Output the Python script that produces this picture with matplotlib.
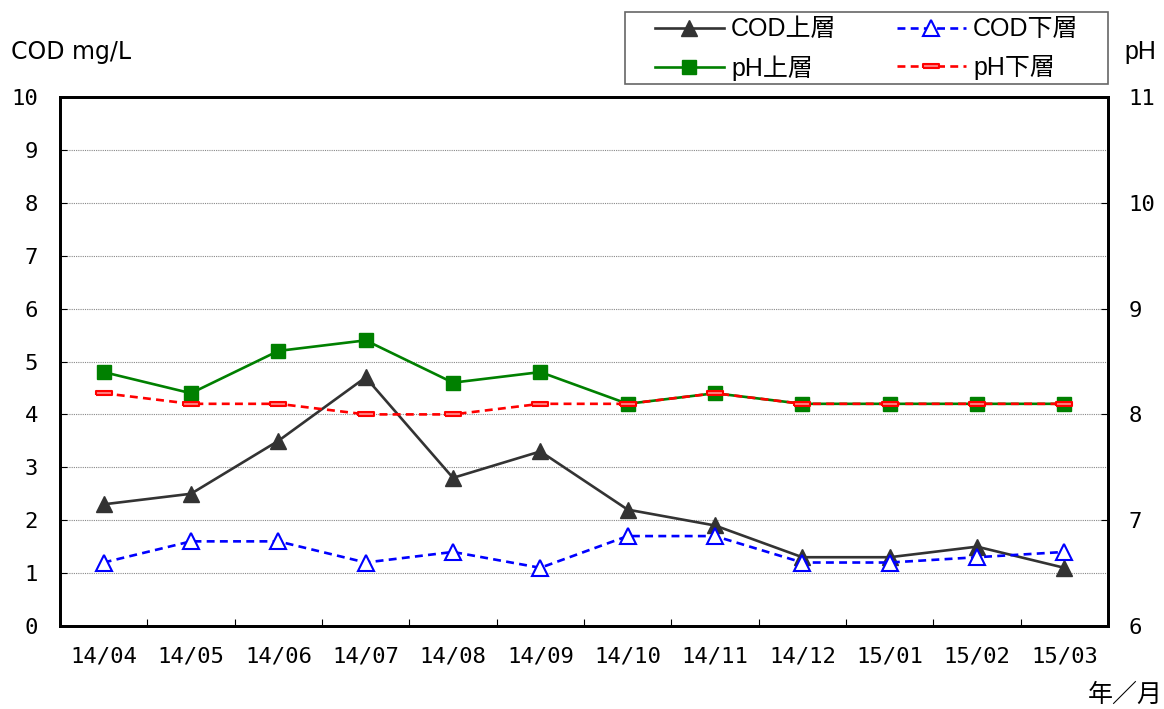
import matplotlib
matplotlib.use('Agg')
import matplotlib.pyplot as plt
from matplotlib.patches import Rectangle
from matplotlib.ticker import MultipleLocator, FixedLocator

plt.rcParams['font.family'] = ['DejaVu Sans', 'Noto Sans CJK JP']

months = ['14/04', '14/05', '14/06', '14/07', '14/08', '14/09',
          '14/10', '14/11', '14/12', '15/01', '15/02', '15/03']
cod_upper = [2.3, 2.5, 3.5, 4.7, 2.8, 3.3, 2.2, 1.9, 1.3, 1.3, 1.5, 1.1]
cod_lower = [1.2, 1.6, 1.6, 1.2, 1.4, 1.1, 1.7, 1.7, 1.2, 1.2, 1.3, 1.4]
ph_upper = [8.4, 8.2, 8.6, 8.7, 8.3, 8.4, 8.1, 8.2, 8.1, 8.1, 8.1, 8.1]
ph_lower = [8.2, 8.1, 8.1, 8.0, 8.0, 8.1, 8.1, 8.2, 8.1, 8.1, 8.1, 8.1]

x = list(range(len(months)))
fs = 16
tick_font = ['DejaVu Sans Mono']
text_font = ['Liberation Sans', 'Noto Sans CJK JP']
flat_box = [(-1, -0.3), (1, -0.3), (1, 0.3), (-1, 0.3), (-1, -0.3)]

fig = plt.figure(figsize=(11.64, 7.09), dpi=100)
ax = fig.add_axes([60/1164, 1 - 626/709, (1108 - 60)/1164, (626 - 97)/709])
ax2 = ax.twinx()

l1, = ax.plot(x, cod_upper, color='#333333', lw=1.9, marker='^', ms=11, label='COD上層')
l2, = ax.plot(x, cod_lower, color='blue', lw=1.9, ls=(0, (3, 2)), marker='^', ms=11,
              mfc='white', mec='blue', mew=1.5, label='COD下層')
l3, = ax2.plot(x, ph_upper, color='green', lw=1.9, marker='s', ms=10, label='pH上層')
l4, = ax2.plot(x, ph_lower, color='red', lw=1.9, ls=(0, (3, 2)), marker=flat_box, ms=11,
               mfc='#ff8080', mec='red', mew=1.5, label='pH下層')

ax.set_xlim(-0.5, len(months) - 0.5)
ax.set_ylim(0, 10)
ax2.set_ylim(6, 11)
ax.yaxis.set_major_locator(MultipleLocator(1))
ax2.yaxis.set_major_locator(MultipleLocator(1))
ax.grid(axis='y', color='#888888', ls=(0, (1, 1)), lw=0.8)

ax.set_xticks(x)
ax.set_xticklabels(months)
ax.xaxis.set_minor_locator(FixedLocator([i + 0.5 for i in x[:-1]]))
ax.tick_params(axis='x', which='major', length=0, labelsize=fs, pad=15)
ax.tick_params(axis='x', which='minor', direction='in', length=5, width=0.8)
ax.tick_params(axis='y', direction='in', length=5, width=0.8, labelsize=fs, pad=16)
ax2.tick_params(axis='y', direction='in', length=5, width=0.8, labelsize=fs, pad=15)
for lab in ax.get_xticklabels() + ax.get_yticklabels() + ax2.get_yticklabels():
    lab.set_family(tick_font)

for a in (ax, ax2):
    for s in a.spines.values():
        s.set_linewidth(2)

fig.text(11/1164, 1 - 52/709, 'COD mg/L', fontsize=17, va='center', ha='left', family=['DejaVu Sans'])
fig.text(1124/1164, 1 - 52/709, 'pH', fontsize=18, va='center', ha='left', family=text_font)
fig.text(1163/1164, 1 - 695/709, '年／月', fontsize=18, va='center', ha='right', family=text_font)

# legend frame drawn separately so the inner spacing can match
fig.patches.append(Rectangle((625/1164, 1 - 84/709), (1108 - 625)/1164, 72/709,
                             transform=fig.transFigure, fill=False,
                             edgecolor='#666666', lw=1.2))
leg = fig.legend(handles=[l1, l3, l2, l4], ncol=2, loc='center',
                 bbox_to_anchor=((625 + 1108) / 2 / 1164, 1 - 49/709),
                 prop={'family': text_font, 'size': 18}, frameon=False,
                 handlelength=2.76, handletextpad=0.3, columnspacing=2.4,
                 borderpad=0, labelspacing=0.55)

fig.savefig('out.png', dpi=100)
